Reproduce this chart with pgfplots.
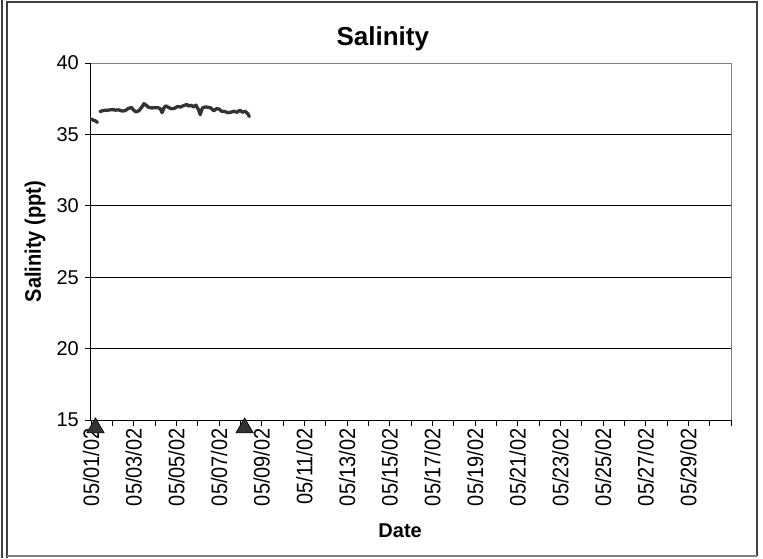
\documentclass[border=0pt]{standalone}
\usepackage{pgfplots}
\pgfplotsset{compat=1.18}
\usepackage{fontspec}
\setmainfont{Liberation Sans}
\definecolor{line}{HTML}{333333}
\definecolor{frame}{HTML}{404040}
\newcommand{\sx}[1]{\scalebox{1}[1.12]{#1}}
\begin{document}
\begin{tikzpicture}[x=1pt,y=1pt]
\useasboundingbox (0,0) rectangle (763,558);
% outer frame
\draw[frame, line width=1.5pt] (2,0) -- (2,558);
\draw[frame, line width=1.5pt] (7,0) -- (7,556) -- (757,556) -- (757,2);
\draw[gray, line width=1.5pt] (7,2) -- (757,2);
\begin{axis}[
  at={(91pt,138pt)}, anchor=south west,
  scale only axis, width=640pt, height=357pt,
  xmin=0, xmax=30, ymin=15, ymax=40,
  axis x line*=bottom, axis y line*=left,
  axis line style={black, line width=1pt, -},
  tick align=outside,
  major tick length=6pt, minor tick length=6pt,
  tick style={black, line width=0.8pt},
  xtick={0,2,...,28},
  xticklabels={\sx{05/01/02},\sx{05/03/02},\sx{05/05/02},\sx{05/07/02},\sx{05/09/02},\sx{05/11/02},\sx{05/13/02},\sx{05/15/02},\sx{05/17/02},\sx{05/19/02},\sx{05/21/02},\sx{05/23/02},\sx{05/25/02},\sx{05/27/02},\sx{05/29/02}},
  minor xtick={1,3,...,29,30},
  xticklabel style={rotate=90, anchor=east, inner sep=2pt, font=\fontsize{20}{22}\selectfont},
  ytick={20,25,30,35},
  extra y ticks={15,40},
  extra y tick style={grid=none},
  ymajorgrids,
  major grid style={black, line width=0.8pt},
  yticklabel style={inner sep=2pt, xshift=-4pt, font=\fontsize{20}{22}\selectfont},
  /pgf/number format/assume math mode=true,
  clip=false,
  title={Salinity},
  title style={at={(axis description cs:0.456,1.0336)}, anchor=base, font=\bfseries\fontsize{26}{30}\selectfont},
  xlabel={Date},
  xlabel style={at={(axis description cs:0.483,-0.3305)}, anchor=base, font=\bfseries\fontsize{20}{22}\selectfont},
  ylabel={\sx{Salinity (ppt)}},
  ylabel style={at={(axis description cs:-0.0875,0.5)}, anchor=center, font=\bfseries\fontsize{20}{22}\selectfont},
]
\draw[gray, line width=1pt] (rel axis cs:0,1) -- (rel axis cs:1,1) -- (rel axis cs:1,0);
\addplot[line, line width=3.3pt, line join=round, line cap=round] coordinates {
(0.02,36.08) (0.1,36.0) (0.2,35.96) (0.3,35.84)
};
\addplot[line, line width=3.3pt, line join=round, line cap=round] coordinates {
(0.42,36.60) (0.60,36.68) (0.80,36.70) (1.00,36.74) (1.15,36.70) (1.30,36.72)
(1.45,36.64) (1.60,36.66) (1.75,36.82) (1.90,36.88) (2.00,36.70) (2.10,36.58)
(2.25,36.66) (2.40,36.95) (2.48,37.15) (2.58,37.05) (2.70,36.90) (2.85,36.85)
(3.00,36.88) (3.15,36.86) (3.25,36.80) (3.33,36.52) (3.42,36.85) (3.50,37.00)
(3.62,36.90) (3.75,36.80) (3.90,36.82) (4.05,36.95) (4.20,36.92) (4.35,37.02)
(4.50,37.10) (4.58,36.98) (4.70,37.05) (4.80,36.92) (4.92,37.05) (5.05,36.70)
(5.12,36.38) (5.22,36.85) (5.35,36.92) (5.50,36.90) (5.62,36.85) (5.75,36.65)
(5.88,36.80) (6.00,36.78) (6.12,36.62) (6.28,36.60) (6.42,36.52) (6.55,36.55)
(6.70,36.62) (6.85,36.55) (6.98,36.70) (7.10,36.55) (7.22,36.62) (7.35,36.45)
(7.42,36.25)
};
\addplot[only marks, mark=triangle*, mark size=10pt, mark options={fill=line, draw=black, line width=0.6pt}] coordinates {
(0.21,14.45) (7.2,14.45)
};
\end{axis}
\end{tikzpicture}
\end{document}
